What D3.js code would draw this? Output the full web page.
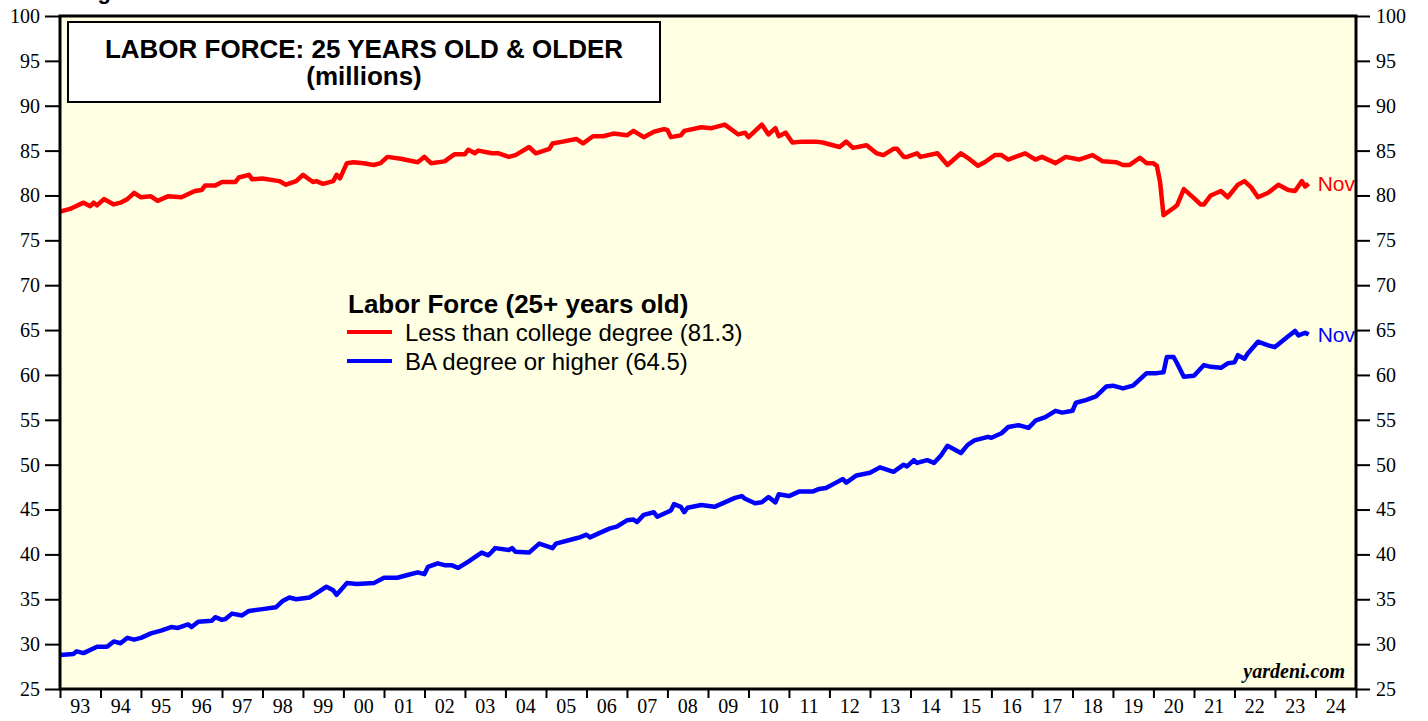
<!DOCTYPE html>
<html>
<head>
<meta charset="utf-8">
<script src="https://cdn.jsdelivr.net/npm/d3@7"></script>
<style>
  body { margin: 0; background: #fff; }
  svg { display: block; }
</style>
</head>
<body>
<svg id="chart" width="1428" height="721"></svg>
<script>
// Labor force, 25 years & older (millions)
var lessDates = ["1993-01","1993-04","1993-08","1993-10","1993-11","1993-12","1994-02","1994-05","1994-07","1994-09","1994-11",
  "1995-01","1995-04","1995-06","1995-09","1996-01","1996-05","1996-07","1996-08","1996-11","1997-01","1997-05","1997-06","1997-09","1997-10",
  "1998-01","1998-06","1998-08","1998-11","1999-01","1999-04","1999-05","1999-07","1999-10","1999-11","1999-12",
  "2000-02","2000-04","2000-07","2000-10","2000-12","2001-02","2001-06","2001-11","2002-01","2002-03","2002-07","2002-10",
  "2003-01","2003-02","2003-04","2003-05","2003-09","2003-11","2004-02","2004-04","2004-08","2004-10",
  "2005-02","2005-03","2005-06","2005-10","2005-12","2006-03","2006-06","2006-09","2007-01","2007-03","2007-06","2007-09","2007-12",
  "2008-01","2008-02","2008-05","2008-06","2008-11","2009-02","2009-06","2009-10","2009-12","2010-01","2010-05","2010-07","2010-09","2010-10","2010-12",
  "2011-02","2011-05","2011-09","2011-11","2012-04","2012-06","2012-08","2012-12","2013-03","2013-05","2013-08","2013-09","2013-11","2013-12",
  "2014-03","2014-04","2014-09","2014-12","2015-04","2015-06","2015-09","2015-11","2016-02","2016-04","2016-06","2016-11",
  "2017-02","2017-04","2017-08","2017-11","2018-03","2018-07","2018-10","2019-02","2019-04","2019-06","2019-09","2019-11",
  "2020-01","2020-02","2020-03","2020-04","2020-07","2020-08","2020-10","2021-01","2021-03","2021-04","2021-06","2021-09","2021-11",
  "2022-02","2022-04","2022-06","2022-08","2022-11","2023-02","2023-05","2023-07","2023-09","2023-10","2023-11"];
var lessValues = [78.2,78.5,79.2,78.8,79.2,78.9,79.6,79.0,79.2,79.6,80.3,
  79.8,79.9,79.4,79.9,79.8,80.5,80.6,81.1,81.1,81.5,81.5,82.0,82.3,81.8,
  81.9,81.6,81.2,81.6,82.3,81.5,81.6,81.3,81.6,82.3,81.9,
  83.6,83.7,83.6,83.4,83.6,84.3,84.1,83.7,84.3,83.6,83.8,84.6,
  84.6,85.1,84.7,85.0,84.7,84.7,84.3,84.5,85.4,84.7,
  85.2,85.8,86.0,86.3,85.8,86.6,86.6,86.9,86.7,87.2,86.5,87.1,87.4,
  87.3,86.5,86.7,87.2,87.6,87.5,87.9,86.8,87.0,86.5,87.9,86.8,87.5,86.6,87.0,
  85.9,86.0,86.0,85.9,85.4,86.0,85.3,85.6,84.7,84.5,85.2,85.2,84.3,84.3,
  84.7,84.3,84.7,83.4,84.7,84.2,83.3,83.7,84.5,84.5,84.0,84.7,
  84.0,84.3,83.6,84.3,84.0,84.5,83.8,83.7,83.4,83.4,84.2,83.6,
  83.6,83.3,81.5,77.8,78.6,78.9,80.7,79.7,79.0,79.0,80.0,80.5,79.8,
  81.2,81.6,80.9,79.8,80.3,81.2,80.6,80.5,81.6,81.0,81.3];

var baDates = ["1993-01","1993-05","1993-06","1993-08","1993-12","1994-03","1994-05","1994-07","1994-09","1994-11",
  "1995-01","1995-04","1995-07","1995-10","1995-12","1996-03","1996-04","1996-06","1996-10","1996-11",
  "1997-01","1997-02","1997-04","1997-07","1997-09","1998-01","1998-05","1998-07","1998-09","1998-11",
  "1999-03","1999-06","1999-08","1999-10","1999-11","2000-02","2000-05","2000-10","2001-01","2001-05","2001-08","2001-11",
  "2002-01","2002-02","2002-05","2002-07","2002-09","2002-11","2003-02","2003-04","2003-06","2003-08","2003-09","2003-10",
  "2004-02","2004-03","2004-04","2004-08","2004-11","2005-03","2005-04","2005-10","2005-11",
  "2006-01","2006-02","2006-05","2006-08","2006-10","2007-01","2007-03","2007-04","2007-06","2007-09","2007-10",
  "2008-02","2008-03","2008-05","2008-06","2008-07","2008-11","2009-03","2009-06","2009-09","2009-11","2009-12",
  "2010-03","2010-05","2010-07","2010-09","2010-10","2011-01","2011-04","2011-08","2011-10","2011-12",
  "2012-03","2012-05","2012-06","2012-09","2013-01","2013-04","2013-08","2013-11","2013-12",
  "2014-02","2014-03","2014-06","2014-08","2014-10","2014-12","2015-04","2015-06","2015-08","2015-12",
  "2016-01","2016-04","2016-06","2016-09","2016-12","2017-02","2017-05","2017-08","2017-10",
  "2018-01","2018-02","2018-05","2018-08","2018-11","2019-01","2019-04","2019-07","2019-11",
  "2020-02","2020-04","2020-05","2020-07","2020-08","2020-10","2021-01","2021-04","2021-06","2021-09","2021-11",
  "2022-01","2022-02","2022-04","2022-05","2022-08","2022-11","2023-01","2023-05","2023-07","2023-08","2023-10","2023-11"];
var baValues = [28.8,28.9,29.2,29.0,29.7,29.7,30.3,30.1,30.7,30.5,
  30.7,31.2,31.5,31.9,31.8,32.2,31.9,32.5,32.6,33.0,
  32.7,32.8,33.4,33.2,33.7,33.9,34.1,34.8,35.2,35.0,
  35.2,35.9,36.4,36.0,35.5,36.8,36.7,36.8,37.4,37.4,37.7,38.0,
  37.8,38.6,39.0,38.8,38.8,38.5,39.2,39.7,40.2,39.9,40.3,40.7,
  40.5,40.7,40.3,40.2,41.2,40.7,41.2,41.8,41.9,
  42.2,41.9,42.4,42.9,43.1,43.8,43.9,43.6,44.4,44.7,44.2,
  44.9,45.6,45.3,44.7,45.2,45.5,45.3,45.8,46.3,46.5,46.2,
  45.7,45.8,46.4,45.8,46.7,46.5,47.0,47.0,47.3,47.4,
  48.0,48.4,48.0,48.8,49.1,49.7,49.2,50.0,49.8,
  50.5,50.2,50.5,50.2,51.0,52.1,51.3,52.2,52.7,53.1,
  53.0,53.5,54.2,54.4,54.1,54.9,55.3,56.0,55.8,
  56.0,56.9,57.2,57.6,58.7,58.8,58.5,58.8,60.2,
  60.2,60.3,62.0,62.0,61.3,59.8,59.9,61.1,60.9,60.8,61.3,
  61.4,62.2,61.8,62.4,63.7,63.3,63.1,64.3,64.9,64.4,64.7,64.5];

var yTicks = [25,30,35,40,45,50,55,60,65,70,75,80,85,90,95,100];
var yearTicks = ["1993","1994","1995","1996","1997","1998","1999","2000","2001","2002","2003","2004","2005","2006","2007","2008",
  "2009","2010","2011","2012","2013","2014","2015","2016","2017","2018","2019","2020","2021","2022","2023","2024","2025"];
var yearLabels = ["93","94","95","96","97","98","99","00","01","02","03","04","05","06","07","08",
  "09","10","11","12","13","14","15","16","17","18","19","20","21","22","23","24"];

var titleLines = ["LABOR FORCE: 25 YEARS OLD & OLDER", "(millions)"];
var legendTitle = "Labor Force (25+ years old)";
var legendNames = ["Less than college degree (81.3)", "BA degree or higher (64.5)"];
var colors = ["#ff0000", "#0000ff"];

var parseMonth = d3.timeParse("%Y-%m");
var parseYear = d3.timeParse("%Y");

var plot = { x0: 60, x1: 1356, y0: 16, y1: 689 };

var svg = d3.select("#chart");

var x = d3.scaleTime()
    .domain([parseYear("1993"), parseYear("2025")])
    .range([plot.x0, plot.x1]);

var y = d3.scaleLinear()
    .domain([25, 100])
    .range([plot.y1, plot.y0]);

// cut off heading at very top
svg.append("text")
    .attr("x", 78).attr("y", -1)
    .style("font-family", "Liberation Sans, Arial, sans-serif")
    .style("font-weight", "bold").style("font-size", "22px")
    .text("Figure");

svg.append("rect")
    .attr("x", plot.x0).attr("y", plot.y0)
    .attr("width", plot.x1 - plot.x0).attr("height", plot.y1 - plot.y0)
    .style("fill", "#ffffe4");

// left axis
var gl = svg.append("g")
    .attr("transform", "translate(" + plot.x0 + ",0)")
    .call(d3.axisLeft(y).tickValues(yTicks).tickSize(15).tickPadding(5).tickFormat(d3.format("d")));
// right axis
var gr = svg.append("g")
    .attr("transform", "translate(" + plot.x1 + ",0)")
    .call(d3.axisRight(y).tickValues(yTicks).tickSize(14).tickPadding(6).tickFormat(d3.format("d")));
// bottom axis ticks
var gb = svg.append("g")
    .attr("transform", "translate(0," + plot.y1 + ")")
    .call(d3.axisBottom(x).tickValues(yearTicks.map(function (d) { return parseYear(d); })).tickSize(9).tickFormat(""));

[gl, gr, gb].forEach(function (g) {
    g.select(".domain").remove();
    g.selectAll(".tick line").style("stroke", "#000").style("stroke-width", 2);
    g.selectAll(".tick text")
        .style("font-family", "Liberation Serif, Times New Roman, serif")
        .style("font-size", "20px")
        .style("fill", "#000");
});

svg.append("g").selectAll("text")
    .data(yearLabels)
    .enter().append("text")
    .attr("x", function (d, i) { return (x(parseYear(yearTicks[i])) + x(parseYear(yearTicks[i + 1]))) / 2; })
    .attr("y", 713)
    .attr("text-anchor", "middle")
    .style("font-family", "Liberation Serif, Times New Roman, serif")
    .style("font-size", "20px")
    .text(function (d) { return d; });

// title box
svg.append("rect")
    .attr("x", 68).attr("y", 22).attr("width", 592).attr("height", 80)
    .style("fill", "#fff").style("stroke", "#000").style("stroke-width", 2);
svg.append("g").selectAll("text")
    .data(titleLines)
    .enter().append("text")
    .attr("x", 364)
    .attr("y", function (d, i) { return 58 + i * 27; })
    .attr("text-anchor", "middle")
    .style("font-family", "Liberation Sans, Arial, sans-serif")
    .style("font-weight", "bold").style("font-size", "26px")
    .text(function (d) { return d; });

// lines
var line = d3.line()
    .x(function (d) { return x(d.date); })
    .y(function (d) { return y(d.value); });

var series = [
    lessDates.map(function (d, i) { return { date: parseMonth(d), value: lessValues[i] }; }),
    baDates.map(function (d, i) { return { date: parseMonth(d), value: baValues[i] }; })
];

series.forEach(function (s, i) {
    svg.append("path")
        .datum(s)
        .attr("d", line)
        .style("fill", "none")
        .style("stroke", colors[i])
        .style("stroke-width", 4.5)
        .style("stroke-linejoin", "round");

    var last = s[s.length - 1];
    svg.append("text")
        .attr("x", x(last.date) + 9)
        .attr("y", y(last.value) + 7)
        .style("font-family", "Liberation Sans, Arial, sans-serif")
        .style("font-size", "21px")
        .style("fill", colors[i])
        .text("Nov");
});

// legend
svg.append("text")
    .attr("x", 348).attr("y", 313)
    .style("font-family", "Liberation Sans, Arial, sans-serif")
    .style("font-weight", "bold").style("font-size", "26px")
    .text(legendTitle);

legendNames.forEach(function (name, i) {
    svg.append("line")
        .attr("x1", 347).attr("x2", 392)
        .attr("y1", 332 + i * 29).attr("y2", 332 + i * 29)
        .style("stroke", colors[i]).style("stroke-width", 4);
    svg.append("text")
        .attr("x", 405).attr("y", 341 + i * 29)
        .style("font-family", "Liberation Sans, Arial, sans-serif")
        .style("font-size", "24px")
        .text(name);
});

svg.append("text")
    .attr("x", 1345).attr("y", 678)
    .attr("text-anchor", "end")
    .style("font-family", "Liberation Serif, Times New Roman, serif")
    .style("font-weight", "bold").style("font-style", "italic")
    .style("font-size", "20px")
    .text("yardeni.com");

// frame
svg.append("rect")
    .attr("x", plot.x0).attr("y", plot.y0)
    .attr("width", plot.x1 - plot.x0).attr("height", plot.y1 - plot.y0)
    .style("fill", "none").style("stroke", "#000").style("stroke-width", 3);
</script>
</body>
</html>
